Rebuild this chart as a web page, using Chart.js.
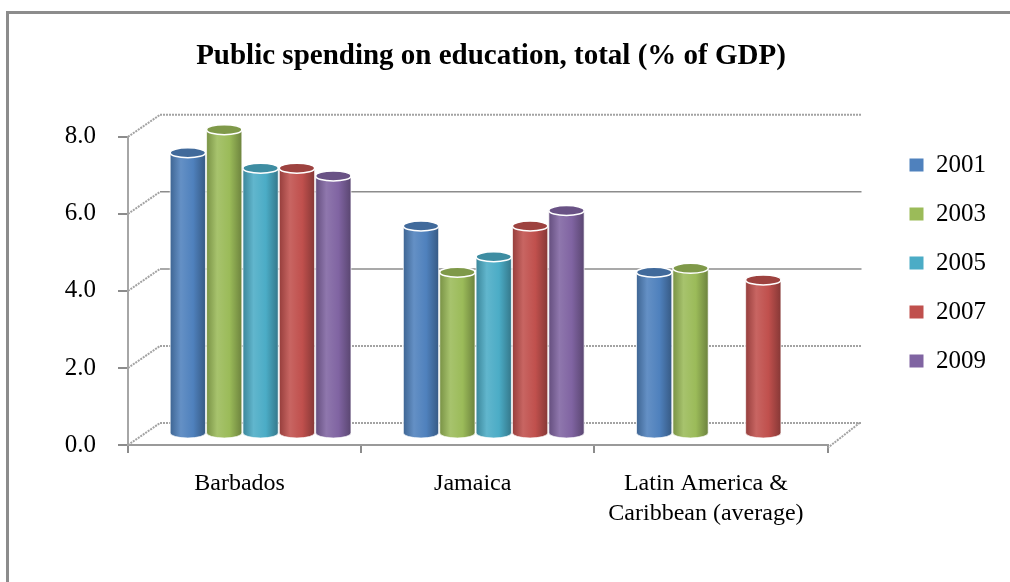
<!DOCTYPE html>
<html>
<head>
<meta charset="utf-8">
<script src="https://cdn.jsdelivr.net/npm/chart.js@4.4.1/dist/chart.umd.min.js"></script>
<style>
  html, body { margin: 0; padding: 0; background: #fff; overflow: hidden; }
  #frame {
    position: absolute; left: 6px; top: 11px; width: 1100px; height: 700px;
    border: 3px solid #8c8c8c; box-sizing: border-box;
  }
  #wrap { position: absolute; left: 0; top: 0; width: 1010px; height: 582px; }
</style>
</head>
<body>
<div id="frame"></div>
<div id="wrap"><canvas id="myChart" width="1010" height="582"></canvas></div>
<script>
const countries = ['Barbados', 'Jamaica', ['Latin America &', 'Caribbean (average)']];
const years = ['2001', '2003', '2005', '2007', '2009'];
const y2001 = [7.3, 5.4, 4.2];
const y2003 = [7.9, 4.2, 4.3];
const y2005 = [6.9, 4.6, null];
const y2007 = [6.9, 5.4, 4.0];
const y2009 = [6.7, 5.8, null];
const yTicks = [0, 2, 4, 6, 8];

const colors = ['#4f81bd', '#9bbb59', '#4bacc6', '#c0504d', '#8064a2'];
const serif = "'Liberation Serif', 'Times New Roman', serif";

// depth offsets of the 3d box: middle plane (bars) and back wall
const MID_DX = 16, MID_DY = -11;
const BACK_DX = 32, BACK_DY = -22;
const dottedLines = [0, 2, 8];

function shade(hex, f) {
    let r = parseInt(hex.substr(1, 2), 16);
    let g = parseInt(hex.substr(3, 2), 16);
    let b = parseInt(hex.substr(5, 2), 16);
    let t = f < 0 ? 0 : 255;
    let p = Math.abs(f);
    r = Math.round(r + (t - r) * p);
    g = Math.round(g + (t - g) * p);
    b = Math.round(b + (t - b) * p);
    return `rgb(${r}, ${g}, ${b})`;
}

function drawCylinder(ctx, cx, top, base, w, color) {
    const rx = w / 2, ry = 5;
    const left = cx - rx;
    let grad = ctx.createLinearGradient(left, 0, left + w, 0);
    grad.addColorStop(0, shade(color, -0.22));
    grad.addColorStop(0.3, shade(color, 0.12));
    grad.addColorStop(0.65, color);
    grad.addColorStop(1, shade(color, -0.3));

    ctx.beginPath();
    ctx.moveTo(left, top);
    ctx.lineTo(left, base);
    ctx.ellipse(cx, base, rx, ry, 0, Math.PI, 0, true);
    ctx.lineTo(left + w, top);
    ctx.closePath();
    ctx.fillStyle = grad;
    ctx.fill();
    ctx.strokeStyle = 'rgba(255,255,255,0.7)';
    ctx.lineWidth = 1;
    ctx.stroke();

    // lid
    ctx.beginPath();
    ctx.ellipse(cx, top, rx, ry, 0, 0, Math.PI * 2);
    ctx.fillStyle = shade(color, -0.18);
    ctx.fill();
    ctx.strokeStyle = '#ffffff';
    ctx.lineWidth = 1.5;
    ctx.stroke();
}

function line(ctx, x1, y1, x2, y2, dotted) {
    ctx.save();
    ctx.beginPath();
    if (dotted) {
        ctx.setLineDash([2, 1]);
        ctx.strokeStyle = '#a3a3a3';
        ctx.lineWidth = 2;
    } else {
        ctx.strokeStyle = '#8c8c8c';
        ctx.lineWidth = 1.5;
    }
    ctx.moveTo(x1, y1);
    ctx.lineTo(x2, y2);
    ctx.stroke();
    ctx.restore();
}

const box3d = {
    id: 'box3d',
    afterLayout(chart) {
        // legend sits further right than the default spot
        const lg = chart.legend;
        const shift = chart.chartArea.right + 58 - lg.left;
        lg.left += shift;
        lg.right += shift;
    },
    beforeDatasetsDraw(chart) {
        const ctx = chart.ctx;
        const ys = chart.scales.y;
        const L = chart.chartArea.left, R = chart.chartArea.right;

        // back wall + side wall
        ys.ticks.forEach(t => {
            const py = ys.getPixelForValue(t.value);
            const dotted = dottedLines.includes(t.value);
            line(ctx, L + BACK_DX, py + BACK_DY, R + BACK_DX + 2, py + BACK_DY, dotted);
            line(ctx, L, py, L + BACK_DX, py + BACK_DY, true);
        });
        const y0 = ys.getPixelForValue(0);
        line(ctx, R, y0 + 3, R + BACK_DX, y0 + BACK_DY, true);

        // cylinders
        chart.data.datasets.forEach((ds, i) => {
            if (!chart.isDatasetVisible(i)) return;
            const meta = chart.getDatasetMeta(i);
            meta.data.forEach((bar, j) => {
                if (ds.data[j] == null) return;
                drawCylinder(ctx, bar.x + MID_DX, bar.y + MID_DY, bar.base + MID_DY, bar.width, ds.backgroundColor);
            });
        });
        return false;
    }
};

const series = [y2001, y2003, y2005, y2007, y2009];

const data = {
    labels: countries,
    datasets: years.map((yr, i) => ({
        label: yr,
        data: series[i],
        backgroundColor: colors[i],
        borderWidth: 0,
        categoryPercentage: 0.78,
        barPercentage: 0.97
    }))
};

const config = {
    type: 'bar',
    data: data,
    options: {
        responsive: false,
        animation: false,
        layout: { padding: { left: 44, right: 72, top: 0, bottom: 56 } },
        plugins: {
            title: {
                display: true,
                text: 'Public spending on education, total (% of GDP)',
                color: '#000',
                font: { family: serif, size: 29, weight: 'bold' },
                padding: { top: 39, bottom: 63 }
            },
            legend: {
                position: 'right',
                labels: {
                    color: '#000',
                    font: { family: serif, size: 25 },
                    boxWidth: 14,
                    boxHeight: 13,
                    padding: 24
                }
            },
            tooltip: { enabled: false }
        },
        scales: {
            x: {
                afterFit: s => { s.height = 81; },
                grid: { drawOnChartArea: false, tickLength: 8, color: '#8c8c8c', lineWidth: 2, offset: true },
                border: { color: '#9a9a9a', width: 2 },
                ticks: {
                    color: '#000',
                    font: { family: serif, size: 24, lineHeight: 1.25 },
                    padding: 16,
                    labelOffset: -5,
                    maxRotation: 0
                }
            },
            y: {
                min: 0,
                max: 8,
                afterFit: s => { s.width = 84; },
                afterBuildTicks: s => { s.ticks = yTicks.map(v => ({ value: v })); },
                grid: { drawOnChartArea: false, tickLength: 10, color: '#8c8c8c', lineWidth: 2 },
                border: { color: '#a6a6a6', width: 2 },
                ticks: {
                    color: '#000',
                    font: { family: serif, size: 25 },
                    padding: 22,
                    callback: v => Number(v).toFixed(1)
                }
            }
        }
    },
    plugins: [box3d]
};

let ctx = document.getElementById('myChart').getContext('2d');
new Chart(ctx, config);
</script>
</body>
</html>
